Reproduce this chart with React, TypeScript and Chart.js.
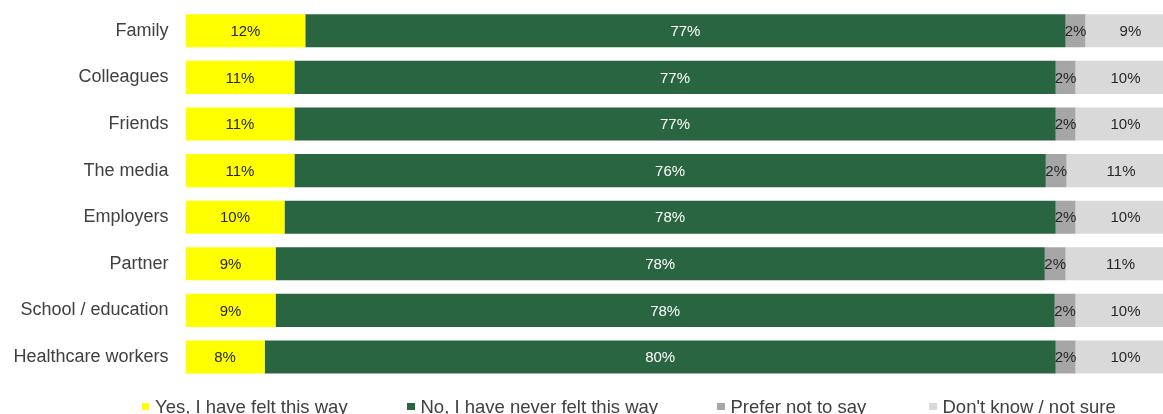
import React, { useEffect, useRef } from "react";
import { Chart, registerables } from "chart.js";

Chart.register(...registerables);

const categories = [
  "Family",
  "Colleagues",
  "Friends",
  "The media",
  "Employers",
  "Partner",
  "School / education",
  "Healthcare workers",
];

const seriesNames = [
  "Yes, I have felt this way",
  "No, I have never felt this way",
  "Prefer not to say",
  "Don't know / not sure",
];

const yesValues = [12.1, 11.0, 11.0, 11.0, 10.0, 9.1, 9.1, 8.0];
const noValues = [76.8, 76.9, 76.9, 75.9, 77.9, 77.7, 78.7, 79.9];
const preferValues = [2.0, 2.0, 2.0, 2.1, 2.0, 2.1, 2.1, 2.0];
const dontKnowValues = [9.1, 10.1, 10.1, 11.0, 10.1, 11.1, 10.1, 10.1];

const yesLabels = ["12%", "11%", "11%", "11%", "10%", "9%", "9%", "8%"];
const noLabels = ["77%", "77%", "77%", "76%", "78%", "78%", "78%", "80%"];
const preferLabels = ["2%", "2%", "2%", "2%", "2%", "2%", "2%", "2%"];
const dontKnowLabels = ["9%", "10%", "10%", "11%", "10%", "11%", "10%", "10%"];

const COLORS = ["#FFFF00", "#2A6542", "#A6A6A6", "#D9D9D9"];
const LABEL_COLORS = ["#262626", "#FFFFFF", "#262626", "#262626"];
const FONT = '"Liberation Sans", Arial, sans-serif';
const X_MAX = 98.74;

const valueSets = [yesValues, noValues, preferValues, dontKnowValues];
const labelSets = [yesLabels, noLabels, preferLabels, dontKnowLabels];

const LEGEND_LEFT = [141.5, 407, 717, 929];

const segmentLabelPlugin = {
  id: "segmentLabels",
  afterDatasetsDraw(chart: any) {
    const ctx = chart.ctx;
    ctx.save();
    ctx.font = `15px ${FONT}`;
    ctx.textAlign = "center";
    ctx.textBaseline = "middle";
    chart.data.datasets.forEach((ds: any, di: number) => {
      const meta = chart.getDatasetMeta(di);
      meta.data.forEach((el: any, i: number) => {
        const cx = (el.x + el.base) / 2;
        ctx.fillStyle = LABEL_COLORS[di];
        ctx.fillText(labelSets[di][i], cx, el.y + 1);
      });
    });
    ctx.restore();
  },
};

export default function App() {
  const canvasRef = useRef<HTMLCanvasElement | null>(null);

  useEffect(() => {
    if (!canvasRef.current) return;
    const chart = new Chart(canvasRef.current, {
      type: "bar",
      data: {
        labels: categories,
        datasets: valueSets.map((vals, i) => ({
          label: seriesNames[i],
          data: vals,
          backgroundColor: COLORS[i],
          borderWidth: 0,
          categoryPercentage: 0.71,
          barPercentage: 1,
        })),
      },
      options: {
        indexAxis: "y",
        responsive: false,
        animation: false,
        layout: { padding: { top: 7.5, bottom: 33.7, left: 0, right: 0 } },
        plugins: {
          legend: { display: false },
          tooltip: { enabled: false },
        },
        scales: {
          x: {
            stacked: true,
            min: 0,
            max: X_MAX,
            display: false,
          },
          y: {
            stacked: true,
            grid: { display: false, drawTicks: false, tickLength: 0 },
            border: { display: false },
            ticks: {
              padding: 17,
              color: "#404040",
              font: { family: FONT, size: 18 },
            },
            afterFit(scale: any) {
              scale.width = 185.5;
              scale.paddingTop = 0;
              scale.paddingBottom = 0;
            },
          },
        },
      },
      plugins: [segmentLabelPlugin],
    });
    return () => chart.destroy();
  }, []);

  return (
    <div
      style={{
        position: "absolute",
        left: 0,
        top: 0,
        width: 1163,
        height: 414,
        overflow: "hidden",
        background: "#fff",
      }}
    >
      <canvas ref={canvasRef} width={1163} height={414} style={{ display: "block" }} />
      {seriesNames.map((name, i) => (
        <div
          key={name}
          style={{
            position: "absolute",
            left: LEGEND_LEFT[i],
            top: 397,
            height: 20,
            whiteSpace: "nowrap",
            fontFamily: FONT,
            fontSize: 18.5,
            lineHeight: "20px",
            color: "#404040",
          }}
        >
          <span
            style={{
              position: "absolute",
              left: 0,
              top: 6,
              width: 7.5,
              height: 7,
              background: COLORS[i],
            }}
          />
          <span style={{ marginLeft: 13.5 }}>{name}</span>
        </div>
      ))}
    </div>
  );
}
